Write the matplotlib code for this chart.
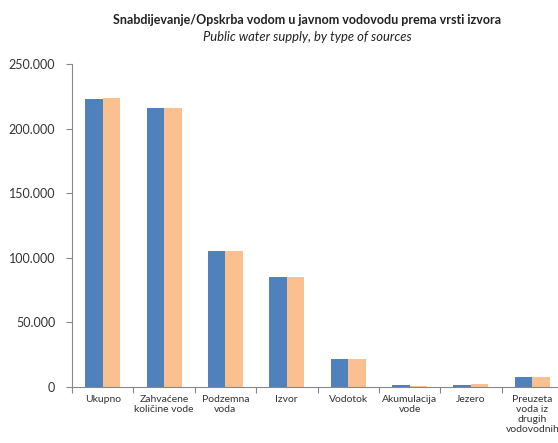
import matplotlib.pyplot as plt
import matplotlib.ticker as mticker
import numpy as np

kategorije = ["Ukupno", "Zahvaćene\nkoličine vode", "Podzemna\nvoda", "Izvor",
              "Vodotok", "Akumulacija\nvode", "Jezero",
              "Preuzeta\nvoda iz\ndrugih\nvodovodnih"]
serija_1 = [222900, 215800, 105300, 85100, 21600, 800, 1500, 7700]
serija_2 = [223600, 215800, 105300, 85100, 21600, 600, 2300, 7700]

plava = "#4F81BD"
narandzasta = "#FAC090"

plt.rcParams['font.family'] = ['Lato', 'DejaVu Sans']

fig = plt.figure(figsize=(5.58, 4.43), dpi=100)
# desna ivica ose izlazi malo van slike (kao u originalu)
ax = fig.add_axes([0.129, 0.1275, 0.88, 0.728])

x = np.arange(len(kategorije))
sirina = 0.285
ax.bar(x - sirina / 2, serija_1, sirina, color=plava)
ax.bar(x + sirina / 2, serija_2, sirina, color=narandzasta)

ax.set_xlim(-0.5, len(kategorije) - 0.5)
ax.set_ylim(0, 250000)
ax.yaxis.set_major_locator(mticker.MultipleLocator(50000))
ax.yaxis.set_major_formatter(mticker.FuncFormatter(lambda v, p: f"{int(v):,}".replace(",", ".")))

# crtice izmedju kategorija, natpisi u sredini
ax.set_xticks(np.arange(len(kategorije) + 1) - 0.5)
ax.set_xticklabels([])
ax.set_xticks(x, minor=True)
ax.set_xticklabels(kategorije, minor=True, fontsize=7.5, color="#333333",
                   va="top", linespacing=1.15)
ax.tick_params(axis="x", which="minor", length=0, pad=6)
ax.tick_params(axis="x", which="major", length=4, color="#888888")
ax.tick_params(axis="y", length=4, color="#888888", labelsize=9,
               labelcolor="#333333", pad=8)

for s in ["top", "right"]:
    ax.spines[s].set_visible(False)
for s in ["left", "bottom"]:
    ax.spines[s].set_color("#888888")
    ax.spines[s].set_linewidth(0.8)

fig.text(0.551, 0.955, "Snabdijevanje/Opskrba vodom u javnom vodovodu prema vrsti izvora",
         ha="center", va="center", fontsize=9.0, fontweight="bold", color="#222222")
fig.text(0.551, 0.917, "Public water supply, by type of sources",
         ha="center", va="center", fontsize=9.4, style="italic", color="#222222")

fig.savefig("out.png", dpi=100)
